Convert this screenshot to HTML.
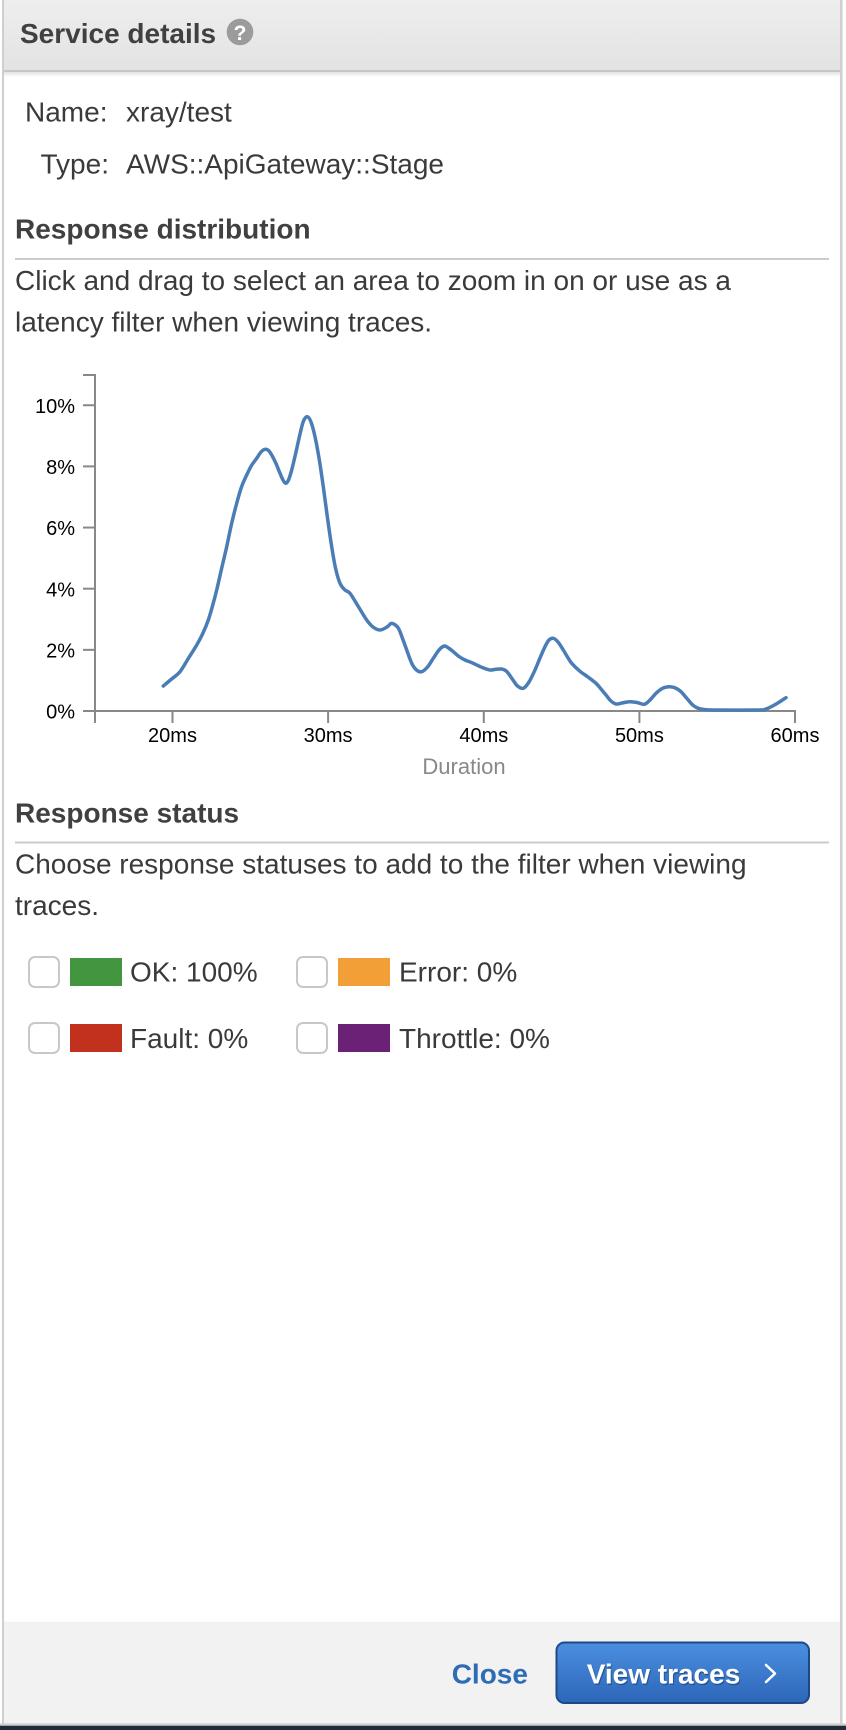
<!DOCTYPE html>
<html>
<head>
<meta charset="utf-8">
<style>
  html, body { margin: 0; padding: 0; background: #ffffff; }
  svg { display: block; }
  text { font-family: "Liberation Sans", Arial, Helvetica, sans-serif; }
</style>
</head>
<body>
<svg id="chart" width="846" height="1730" viewBox="0 0 846 1730" xmlns="http://www.w3.org/2000/svg">
  <defs>
    <linearGradient id="hdr" x1="0" y1="0" x2="0" y2="1">
      <stop offset="0" stop-color="#eeeeee"/>
      <stop offset="1" stop-color="#e3e3e3"/>
    </linearGradient>
    <linearGradient id="hdrShadow" x1="0" y1="0" x2="0" y2="1">
      <stop offset="0" stop-color="#e2e2e2"/>
      <stop offset="1" stop-color="#ffffff"/>
    </linearGradient>
    <linearGradient id="btn" x1="0" y1="0" x2="0" y2="1">
      <stop offset="0" stop-color="#4b8fe0"/>
      <stop offset="1" stop-color="#2d66b8"/>
    </linearGradient>
  </defs>

  <rect x="0" y="0" width="846" height="1730" fill="#ffffff"/>

  <!-- header -->
  <rect x="4" y="0" width="836" height="70" fill="url(#hdr)"/>
  <rect x="4" y="70" width="836" height="2" fill="#c6c6c6"/>
  <rect x="4" y="72" width="836" height="5" fill="url(#hdrShadow)"/>
  <text x="20" y="43" font-size="28" font-weight="bold" fill="#404040">Service details</text>
  <circle cx="240" cy="32" r="13.3" fill="#9b9b9b"/>
  <text x="240" y="40" font-size="21" font-weight="bold" fill="#ffffff" text-anchor="middle">?</text>

  <!-- panel borders -->
  <rect x="2" y="0" width="2" height="1725" fill="#cfcfcf"/>
  <rect x="840" y="0" width="2.5" height="1725" fill="#cfcfcf"/>

  <!-- name / type -->
  <g font-size="28" fill="#3a3a3a">
    <text x="25" y="121.7">Name:</text>
    <text x="126" y="121.7">xray/test</text>
    <text x="40.5" y="173.3">Type:</text>
    <text x="126" y="173.3">AWS::ApiGateway::Stage</text>
  </g>

  <!-- Response distribution -->
  <text x="15" y="238.3" font-size="28" font-weight="bold" fill="#404040">Response distribution</text>
  <rect x="15" y="258" width="814" height="2" fill="#cccccc"/>
  <g font-size="28" fill="#3a3a3a">
    <text x="15" y="290">Click and drag to select an area to zoom in on or use as a</text>
    <text x="15" y="331.7">latency filter when viewing traces.</text>
  </g>

  <!-- chart axes -->
  <g stroke="#888888" stroke-width="2" fill="none">
    <path d="M83,375 H95 V711 H83"/>
    <line x1="83" y1="405.25" x2="95" y2="405.25"/>
    <line x1="83" y1="466.4" x2="95" y2="466.4"/>
    <line x1="83" y1="527.55" x2="95" y2="527.55"/>
    <line x1="83" y1="588.7" x2="95" y2="588.7"/>
    <line x1="83" y1="649.85" x2="95" y2="649.85"/>
    <path d="M95,723 V711 H795 V723"/>
    <line x1="172.5" y1="711" x2="172.5" y2="723"/>
    <line x1="328.1" y1="711" x2="328.1" y2="723"/>
    <line x1="483.8" y1="711" x2="483.8" y2="723"/>
    <line x1="639.4" y1="711" x2="639.4" y2="723"/>
  </g>
  <g font-size="20" fill="#000000" text-anchor="end">
    <text x="75" y="412.8">10%</text>
    <text x="75" y="474">8%</text>
    <text x="75" y="535.1">6%</text>
    <text x="75" y="596.3">4%</text>
    <text x="75" y="657.4">2%</text>
    <text x="75" y="718.5">0%</text>
  </g>
  <g font-size="20" fill="#000000" text-anchor="middle">
    <text x="172.5" y="742">20ms</text>
    <text x="328.1" y="742">30ms</text>
    <text x="483.8" y="742">40ms</text>
    <text x="639.4" y="742">50ms</text>
    <text x="795" y="742">60ms</text>
  </g>
  <text x="464" y="774" font-size="22" fill="#888888" text-anchor="middle">Duration</text>

  <!-- curve -->
  <polyline id="curve" fill="none" stroke="#4a7db5" stroke-width="3.5" stroke-linejoin="round" stroke-linecap="round"
    points="163.3,686 171,679.5 180,671.7 188,659 196.7,645 203,633 208.3,620 212.5,606 216.7,590 221.5,569 226.7,546.7 231.5,524 236.7,503.3 241.5,487 246.7,475 251.5,465.5 256.7,458.3 261,452 265,449.3 268.5,450.5 271.7,455 276,463.5 280,473.3 283,480 285.7,483.3 288.5,480 291.7,470 296,452 300,434 303.5,421 307.3,416.7 311,422 315,436.7 319,458 323.3,486.7 327.5,518 331.7,546.7 335.5,568 340,583.3 345,590 350,593.3 358,606 366.7,620 373,627 380,630 387,627 391,623.5 394.3,624.3 397.5,627 400,631.7 406,648 411.7,663.3 416.5,670 421.7,671.7 427.5,667 433.3,658.3 439,650 444.3,646 448.5,648 453.3,651.7 459,656.5 465,660 471,662.3 476.7,665 483,667.8 490,670 496,669.3 501.7,669 505.5,670.5 508.3,673.3 513,680 517.5,686 523.3,688.3 529,682 535,670 540,658 545,646.7 549,640 553.3,638.3 558,642 563.3,650 567.5,657 571.7,663.3 580,671.3 588,677 596,683.3 601,689 606,695 611,701 616,704 622,703 629.3,701.7 637,702.5 644.3,704.3 650,700 656,693.3 662.5,688.3 669.3,686.7 675.5,688 681,691.7 686.5,698 692.7,705 697.5,708 702.7,709.3 716,710 759.3,710 765,709.3 769.3,707.7 777,703.5 786,697.7"/>

  <!-- Response status -->
  <text x="15" y="822.3" font-size="28" font-weight="bold" fill="#404040">Response status</text>
  <rect x="15" y="841.5" width="814" height="2" fill="#cccccc"/>
  <g font-size="28" fill="#3a3a3a">
    <text x="15" y="873.3">Choose response statuses to add to the filter when viewing</text>
    <text x="15" y="915">traces.</text>
  </g>

  <!-- status checkboxes -->
  <g fill="#ffffff" stroke="#c8c8c8" stroke-width="2">
    <rect x="29" y="957" width="30" height="30" rx="6"/>
    <rect x="297" y="957" width="30" height="30" rx="6"/>
    <rect x="29" y="1023" width="30" height="30" rx="6"/>
    <rect x="297" y="1023" width="30" height="30" rx="6"/>
  </g>
  <rect x="70" y="958" width="52" height="28" fill="#43953f"/>
  <rect x="338" y="958" width="52" height="28" fill="#f29f38"/>
  <rect x="70" y="1024" width="52" height="28" fill="#c1311e"/>
  <rect x="338" y="1024" width="52" height="28" fill="#6b2175"/>
  <g font-size="28" fill="#3a3a3a">
    <text x="130" y="981.7">OK: 100%</text>
    <text x="399" y="981.7">Error: 0%</text>
    <text x="130" y="1048">Fault: 0%</text>
    <text x="399" y="1048">Throttle: 0%</text>
  </g>

  <!-- footer -->
  <rect x="4" y="1621.7" width="836" height="101.8" fill="#f2f2f2"/>
  <rect x="0" y="1723.3" width="846" height="2.4" fill="#cfcfcf"/>
  <rect x="0" y="1725.7" width="846" height="4.3" fill="#222a3a"/>

  <text x="451.7" y="1683.3" font-size="28" font-weight="bold" fill="#2e6cb5">Close</text>

  <rect x="556.5" y="1642.5" width="252.5" height="60.5" rx="8" fill="url(#btn)" stroke="#1d4a86" stroke-width="2"/>
  <text x="587.7" y="1685" font-size="28" font-weight="bold" fill="#1a3f73" opacity="0.6">View traces</text>
  <text x="586.7" y="1683.3" font-size="28" font-weight="bold" fill="#ffffff">View traces</text>
  <polyline points="766,1665 775,1673.5 766,1682" fill="none" stroke="#ffffff" stroke-width="2.5" stroke-linecap="round" stroke-linejoin="round"/>
</svg>
<script>
(function(){
  var pl = document.getElementById('curve');
  if (!pl) return;
  var raw = pl.getAttribute('points').trim().split(/\s+/).map(function(s){
    var a = s.split(','); return [parseFloat(a[0]), parseFloat(a[1])];
  });
  var n = raw.length;
  var d = 'M' + raw[0][0] + ',' + raw[0][1];
  for (var i = 0; i < n - 1; i++) {
    var p0 = raw[i > 0 ? i - 1 : i], p1 = raw[i], p2 = raw[i + 1], p3 = raw[i + 2 < n ? i + 2 : i + 1];
    var c1x = p1[0] + (p2[0] - p0[0]) / 6, c1y = p1[1] + (p2[1] - p0[1]) / 6;
    var c2x = p2[0] - (p3[0] - p1[0]) / 6, c2y = p2[1] - (p3[1] - p1[1]) / 6;
    d += ' C' + c1x.toFixed(2) + ',' + c1y.toFixed(2) + ' ' + c2x.toFixed(2) + ',' + c2y.toFixed(2) + ' ' + p2[0] + ',' + p2[1];
  }
  var path = document.createElementNS('http://www.w3.org/2000/svg', 'path');
  path.setAttribute('d', d);
  path.setAttribute('fill', 'none');
  path.setAttribute('stroke', '#4a7db5');
  path.setAttribute('stroke-width', '3.5');
  path.setAttribute('stroke-linejoin', 'round');
  path.setAttribute('stroke-linecap', 'round');
  pl.parentNode.insertBefore(path, pl);
  pl.parentNode.removeChild(pl);
})();
</script>
</body>
</html>
